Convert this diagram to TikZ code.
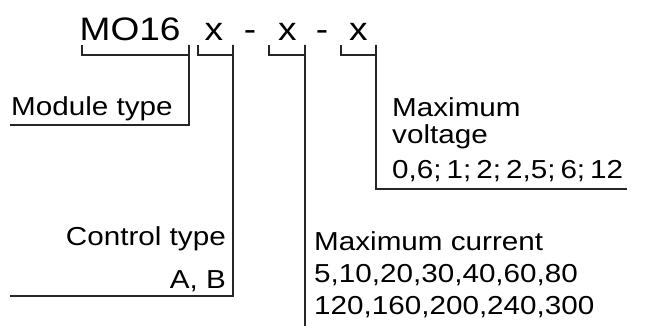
\documentclass[tikz,border=0pt]{standalone}
\usepackage{fontspec}
\setmainfont[FakeStretch=1.14]{Liberation Sans}
\newcommand{\nsp}{\hspace{5pt}}
\begin{document}
\begin{tikzpicture}[x=1pt,y=-1pt,
  lbl/.style={inner sep=0pt,anchor=base west,font=\fontsize{26}{30}\selectfont},
  lblr/.style={inner sep=0pt,anchor=base east,font=\fontsize{26}{30}\selectfont},
  code/.style={inner sep=0pt,anchor=base,font=\fontsize{32.5}{36}\selectfont},
  wire/.style={draw=black!85,line width=1.1pt,line cap=butt,line join=miter}]
\useasboundingbox (0,0) rectangle (652,326);
% code line
\node[code,anchor=base west] (mo) at (79.5,41) {MO16};
\node[code] (x1) at (214,41) {x};
\node[code] (d1) at (250,41) {-};
\node[code] (x2) at (287.5,41) {x};
\node[code] (d2) at (322,41) {-};
\node[code] (x3) at (358.5,41) {x};
% labels
\node[lbl] (mt) at (11,115) {Module type};
\node[lblr] (ct) at (226,245) {Control type};
\node[lblr] (ab) at (226,288) {A, B};
\node[lbl] (mc) at (314,250) {Maximum current};
\node[lbl] (mc2) at (314,282) {5,10,20,30,40,60,80};
\node[lbl] (mc3) at (314,314) {120,160,200,240,300};
\node[lbl] (mv) at (392,116) {Maximum};
\node[lbl] (mv2) at (392,143) {voltage};
\node[lbl] (mv3) at (392,178) {0,6;\nsp 1;\nsp 2;\nsp 2,5;\nsp 6;\nsp 12};
% bracket coordinates
\coordinate (b0l) at (82,45);  \coordinate (b0r) at (189,45);
\coordinate (b1l) at (198,45); \coordinate (b1r) at (233,45);
\coordinate (b2l) at (269,45); \coordinate (b2r) at (305,45);
\coordinate (b3l) at (341,45); \coordinate (b3r) at (376,45);
\coordinate (e0) at (10,125);
\coordinate (e1) at (10,296);
\coordinate (e2) at (305,326);
\coordinate (e3) at (627,189);
% brackets and leaders
\draw[wire] (b0l) -- ++(0,10) -| (b0r) |- (e0);
\draw[wire] (b1l) -- ++(0,10) -| (b1r) |- (e1);
\draw[wire] (b2l) -- ++(0,10) -| (b2r) -- (e2);
\draw[wire] (b3l) -- ++(0,10) -| (b3r) |- (e3);
\end{tikzpicture}
\end{document}
